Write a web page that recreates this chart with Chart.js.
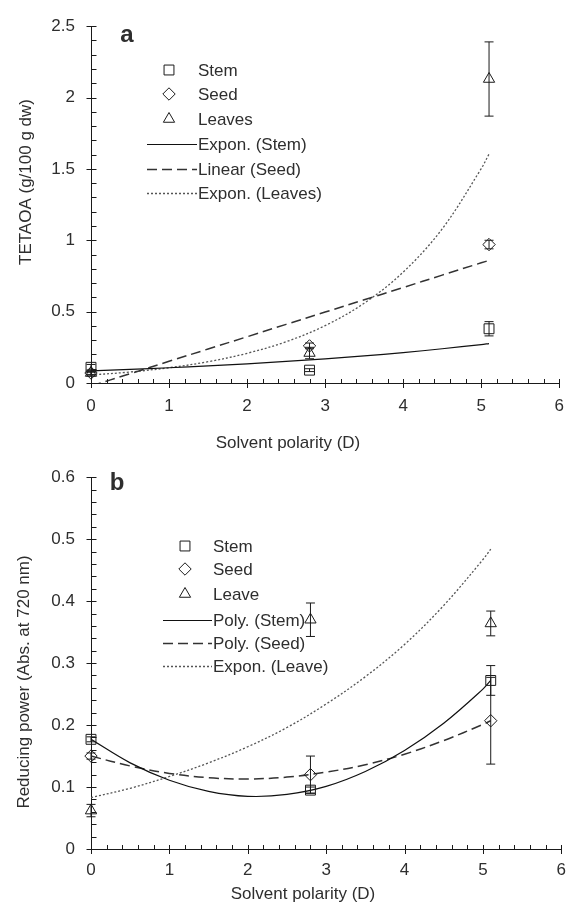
<!DOCTYPE html>
<html>
<head>
<meta charset="utf-8">
<script src="https://cdn.jsdelivr.net/npm/chart.js@4.4.1/dist/chart.umd.min.js"></script>
<style>
  html, body { margin: 0; padding: 0; background: #fff; }
  body { width: 577px; height: 903px; position: relative; overflow: hidden; }
  canvas { position: absolute; left: 0; }
</style>
</head>
<body>
<canvas id="chartA" width="577" height="451" style="top:0"></canvas>
<canvas id="chartB" width="577" height="452" style="top:451px"></canvas>
<script>
// ---------- shared ----------
const polarity = [0, 2.8, 5.1];
const trendX = [0, 0.5, 1, 1.5, 2, 2.5, 3, 3.5, 4, 4.5, 5, 5.1];
const xTicks = [0, 1, 2, 3, 4, 5, 6];
const xTickLabels = ['0', '1', '2', '3', '4', '5', '6'];

// ---------- panel a : TETAOA ----------
const aStem = [0.11, 0.09, 0.38];
const aStemErr = [0.02, 0.01, 0.05];
const aSeed = [0.07, 0.26, 0.97];
const aSeedErr = [0.01, 0.02, 0.03];
const aLeaves = [0.07, 0.21, 2.13];
const aLeavesErr = [0.02, 0.04, 0.26];
const aStemTrend = [0.085, 0.095, 0.107, 0.120, 0.134, 0.151, 0.169, 0.190, 0.213, 0.240, 0.269, 0.276];
const aSeedTrend = [-0.021, 0.065, 0.152, 0.238, 0.324, 0.411, 0.497, 0.583, 0.669, 0.756, 0.842, 0.859];
const aLeavesTrend = [0.056, 0.077, 0.107, 0.149, 0.208, 0.289, 0.402, 0.559, 0.777, 1.080, 1.502, 1.604];
const aYTicks = [0, 0.5, 1, 1.5, 2, 2.5];
const aYTickLabels = ['0', '0.5', '1', '1.5', '2', '2.5'];

// ---------- panel b : reducing power ----------
const bStem = [0.177, 0.095, 0.272];
const bStemErr = [0.004, 0.005, 0.024];
const bSeed = [0.150, 0.120, 0.207];
const bSeedErr = [0.005, 0.030, 0.070];
const bLeave = [0.062, 0.370, 0.364];
const bLeaveErr = [0.010, 0.027, 0.020];
const bStemTrend = [0.177, 0.139, 0.111, 0.093, 0.085, 0.088, 0.101, 0.125, 0.159, 0.203, 0.258, 0.272];
const bSeedTrend = [0.150, 0.134, 0.122, 0.115, 0.113, 0.116, 0.124, 0.136, 0.153, 0.175, 0.201, 0.207];
const bLeaveTrend = [0.083, 0.098, 0.117, 0.139, 0.165, 0.196, 0.234, 0.278, 0.330, 0.393, 0.467, 0.484];
const bYTicks = [0, 0.1, 0.2, 0.3, 0.4, 0.5, 0.6];
const bYTickLabels = ['0', '0.1', '0.2', '0.3', '0.4', '0.5', '0.6'];

// ---------- helpers ----------
const INK = '#1a1a1a';
const TEXT = '#2e2e2e';
const FONT = '"Liberation Sans", Arial, sans-serif';

function pts(xs, ys) { return xs.map((x, i) => ({ x: x, y: ys[i] })); }
function errPts(xs, ys, es) {
  const out = [];
  xs.forEach((x, i) => {
    out.push({ x: x, y: ys[i] - es[i] }, { x: x, y: ys[i] + es[i] }, { x: x, y: null });
  });
  return out;
}
function markerDs(label, ys, style, radius) {
  return {
    label: label, data: pts(polarity, ys), showLine: false, inLegend: true,
    pointStyle: style, pointRadius: radius, pointHoverRadius: radius,
    pointBorderColor: INK, pointBackgroundColor: 'rgba(0,0,0,0)', pointBorderWidth: 1,
    clip: false, order: 0
  };
}
function errDs(ys, es) {
  return {
    label: '', data: errPts(polarity, ys, es), showLine: true, spanGaps: false, inLegend: false,
    borderColor: INK, borderWidth: 1, pointStyle: 'line', pointRadius: 4.5, pointHoverRadius: 4.5,
    pointBorderColor: INK, pointBorderWidth: 1, clip: false, order: 1
  };
}
function trendDs(label, ys, dash, width, color) {
  return {
    label: label, data: pts(trendX, ys), showLine: true, inLegend: true,
    borderColor: color, borderWidth: width, borderDash: dash, pointRadius: 0, pointHoverRadius: 0,
    tension: 0.35, order: 2
  };
}

// tick marks (major crossing, minor inside) drawn from the scales
const axisTicks = {
  id: 'axisTicks',
  afterDraw(chart, args, o) {
    const { ctx, scales: { x, y } } = chart;
    const ax = Math.round(chart.chartArea.bottom) + 0.5;
    const ay = Math.round(chart.chartArea.left) + 0.5;
    ctx.save();
    ctx.strokeStyle = INK; ctx.lineWidth = 1;
    ctx.beginPath();
    o.xMajor.forEach(v => { const p = Math.round(x.getPixelForValue(v)) + 0.5; ctx.moveTo(p, ax - 4.5); ctx.lineTo(p, ax + 4.5); });
    for (let v = x.min; v <= x.max + 1e-9; v += o.xMinorStep) {
      const p = Math.round(x.getPixelForValue(v)) + 0.5; ctx.moveTo(p, ax); ctx.lineTo(p, ax - 4.5);
    }
    o.yMajor.forEach(v => { const p = Math.round(y.getPixelForValue(v)) + 0.5; ctx.moveTo(ay - 5, p); ctx.lineTo(ay + 4.5, p); });
    for (let v = y.min; v <= y.max + 1e-9; v += o.yMinorStep) {
      const p = Math.round(y.getPixelForValue(v)) + 0.5; ctx.moveTo(ay, p); ctx.lineTo(ay + 5, p);
    }
    ctx.stroke();
    ctx.restore();
  }
};

// legend, axis titles and panel letter
const panelText = {
  id: 'panelText',
  afterDraw(chart, args, o) {
    const ctx = chart.ctx;
    ctx.save();
    const items = chart.data.datasets.filter(d => d.inLegend);
    items.forEach((d, i) => {
      const yy = o.rows[i];
      if (d.showLine) {
        ctx.save();
        ctx.strokeStyle = d.borderColor; ctx.lineWidth = d.borderWidth;
        ctx.setLineDash(d.borderDash || []);
        ctx.beginPath(); ctx.moveTo(o.lineX1, Math.round(yy) + 0.5); ctx.lineTo(o.lineX2, Math.round(yy) + 0.5); ctx.stroke();
        ctx.restore();
      } else {
        ctx.save();
        ctx.strokeStyle = d.pointBorderColor; ctx.fillStyle = 'rgba(0,0,0,0)'; ctx.lineWidth = 1;
        Chart.helpers.drawPoint(ctx, { pointStyle: d.pointStyle, radius: d.pointRadius, borderWidth: 1, rotation: 0 }, o.markerX, yy);
        ctx.restore();
      }
      ctx.font = '17px ' + FONT; ctx.fillStyle = TEXT; ctx.textBaseline = 'middle'; ctx.textAlign = 'left';
      ctx.fillText(d.label, o.textX, yy + 1);
    });
    ctx.font = 'bold 24px ' + FONT; ctx.fillStyle = TEXT; ctx.textAlign = 'center'; ctx.textBaseline = 'middle';
    ctx.fillText(o.letter, o.letterX, o.letterY);
    ctx.font = '17px ' + FONT;
    ctx.fillText(o.xTitle, o.xTitleX, o.xTitleY);
    ctx.save();
    ctx.translate(o.yTitleX, o.yTitleY); ctx.rotate(-Math.PI / 2);
    ctx.fillText(o.yTitle, 0, 0);
    ctx.restore();
    ctx.restore();
  }
};

function makeChart(id, cfg) {
  return new Chart(document.getElementById(id), {
    type: 'scatter',
    data: { datasets: cfg.datasets },
    options: {
      responsive: false, animation: false, events: [],
      layout: { padding: { top: cfg.padTop, right: 5, left: 0, bottom: 0 } },
      plugins: {
        legend: { display: false }, tooltip: { enabled: false },
        axisTicks: { xMajor: xTicks, xMinorStep: 0.2, yMajor: cfg.yTicks, yMinorStep: cfg.yMinor },
        panelText: cfg.text
      },
      scales: {
        x: {
          type: 'linear', min: 0, max: 6,
          afterBuildTicks: s => { s.ticks = xTicks.map(v => ({ value: v })); },
          afterFit: s => { s.height = cfg.xAxisH; },
          ticks: { callback: (v, i) => xTickLabels[i], padding: cfg.xPad, color: TEXT, font: { family: FONT, size: 17 }, maxRotation: 0, autoSkip: false },
          grid: { display: false, drawTicks: false },
          border: { display: true, color: INK, width: 1 }
        },
        y: {
          type: 'linear', min: cfg.yTicks[0], max: cfg.yTicks[cfg.yTicks.length - 1],
          afterBuildTicks: s => { s.ticks = cfg.yTicks.map(v => ({ value: v })); },
          afterFit: s => { s.width = 91; },
          ticks: { callback: (v, i) => cfg.yLabels[i], padding: 16, color: TEXT, font: { family: FONT, size: 17 }, autoSkip: false },
          grid: { display: false, drawTicks: false },
          border: { display: true, color: INK, width: 1 }
        }
      }
    },
    plugins: [axisTicks, panelText]
  });
}

makeChart('chartA', {
  padTop: 21, xAxisH: 68, xPad: 13,
  yTicks: aYTicks, yLabels: aYTickLabels, yMinor: 0.1,
  datasets: [
    markerDs('Stem', aStem, 'rect', 7),
    markerDs('Seed', aSeed, 'rectRot', 6.2),
    markerDs('Leaves', aLeaves, 'triangle', 6.5),
    trendDs('Expon. (Stem)', aStemTrend, [], 1.2, '#111'),
    trendDs('Linear (Seed)', aSeedTrend, [10, 5], 1.5, '#333'),
    trendDs('Expon. (Leaves)', aLeavesTrend, [2, 2], 1.3, '#555'),
    errDs(aStem, aStemErr), errDs(aSeed, aSeedErr), errDs(aLeaves, aLeavesErr)
  ],
  text: {
    rows: [70, 94, 119, 144, 169, 193], markerX: 169, textX: 198, lineX1: 147, lineX2: 197,
    letter: 'a', letterX: 127, letterY: 35,
    xTitle: 'Solvent polarity (D)', xTitleX: 288, xTitleY: 443,
    yTitle: 'TETAOA (g/100 g dw)', yTitleX: 26, yTitleY: 182
  }
});

makeChart('chartB', {
  padTop: 18, xAxisH: 54, xPad: 11,
  yTicks: bYTicks, yLabels: bYTickLabels, yMinor: 0.02,
  datasets: [
    markerDs('Stem', bStem, 'rect', 7),
    markerDs('Seed', bSeed, 'rectRot', 6.2),
    markerDs('Leave', bLeave, 'triangle', 6.5),
    trendDs('Poly. (Stem)', bStemTrend, [], 1.2, '#111'),
    trendDs('Poly. (Seed)', bSeedTrend, [10, 5], 1.5, '#333'),
    trendDs('Expon. (Leave)', bLeaveTrend, [2, 2], 1.3, '#555'),
    errDs(bStem, bStemErr), errDs(bSeed, bSeedErr), errDs(bLeave, bLeaveErr)
  ],
  text: {
    rows: [95, 118, 143, 169, 192, 215], markerX: 185, textX: 213, lineX1: 163, lineX2: 212,
    letter: 'b', letterX: 117, letterY: 32,
    xTitle: 'Solvent polarity (D)', xTitleX: 303, xTitleY: 443,
    yTitle: 'Reducing power (Abs. at 720 nm)', yTitleX: 24, yTitleY: 231
  }
});
</script>
</body>
</html>
